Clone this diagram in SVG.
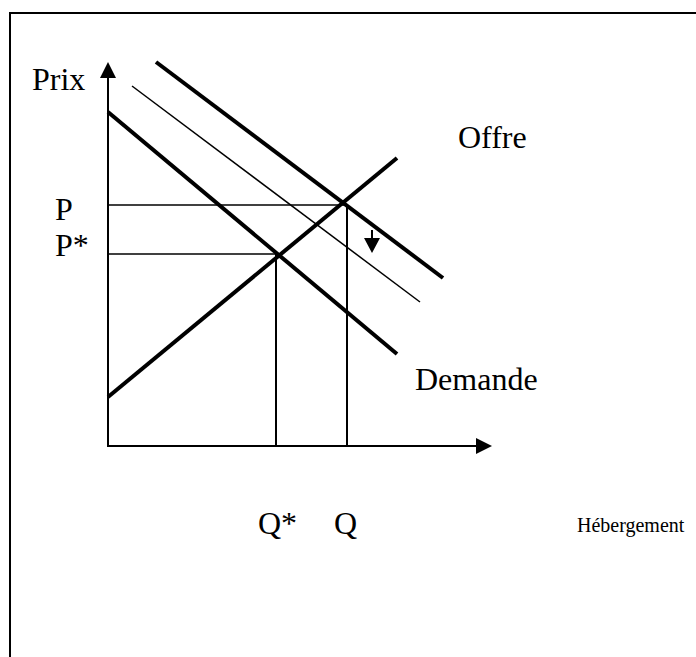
<svg xmlns="http://www.w3.org/2000/svg" width="696" height="657" viewBox="0 0 696 657">
<style>
.lbl{font-family:"Liberation Serif","Times New Roman",serif;font-size:32px;fill:#000}
.small{font-size:20px}
.thick{stroke:#000;stroke-width:4;fill:none}
.thin{stroke:#000;stroke-width:1.5;fill:none}
.axis{stroke:#000;stroke-width:2;fill:none}
</style>
<rect width="696" height="657" fill="#fff"/>
<g id="frame"><path d="M10 657 V13 H696" class="axis" stroke-width="2.5"/></g>
<g id="axes">
<line x1="108" y1="446" x2="108" y2="76" class="axis"/>
<polygon points="108,62 100,78 116,78" fill="#000"/>
<line x1="107" y1="446" x2="478" y2="446" class="axis"/>
<polygon points="492,446 476,438 476,454" fill="#000"/>
</g>
<g id="connectors">
<line x1="108" y1="205" x2="347" y2="205" class="thin"/>
<line x1="108" y1="254" x2="276" y2="254" class="thin"/>
<line x1="276" y1="254" x2="276" y2="446" class="axis"/>
<line x1="347" y1="205" x2="347" y2="446" class="axis"/>
</g>
<g id="offre"><line x1="108" y1="397" x2="397" y2="158" class="thick"/></g>
<g id="demande"><line x1="108" y1="112" x2="397" y2="354" class="thick"/></g>
<g id="demande-haute"><line x1="156" y1="62" x2="443" y2="278" class="thick"/></g>
<g id="demande-mince"><line x1="132" y1="86" x2="420" y2="302" class="thin"/></g>
<g id="fleche">
<line x1="372" y1="230" x2="372" y2="240" class="axis"/>
<polygon points="364,238 380,238 372,253" fill="#000"/>
</g>
<g id="labels">
<text x="32" y="90" class="lbl">Prix</text>
<text x="55" y="220" class="lbl">P</text>
<text x="55" y="256" class="lbl">P*</text>
<text x="458" y="148" class="lbl">Offre</text>
<text x="415" y="390" class="lbl">Demande</text>
<text x="258" y="534" class="lbl">Q*</text>
<text x="334" y="534" class="lbl">Q</text>
<text x="577" y="532" class="lbl small">Hébergement</text>
</g>
</svg>
